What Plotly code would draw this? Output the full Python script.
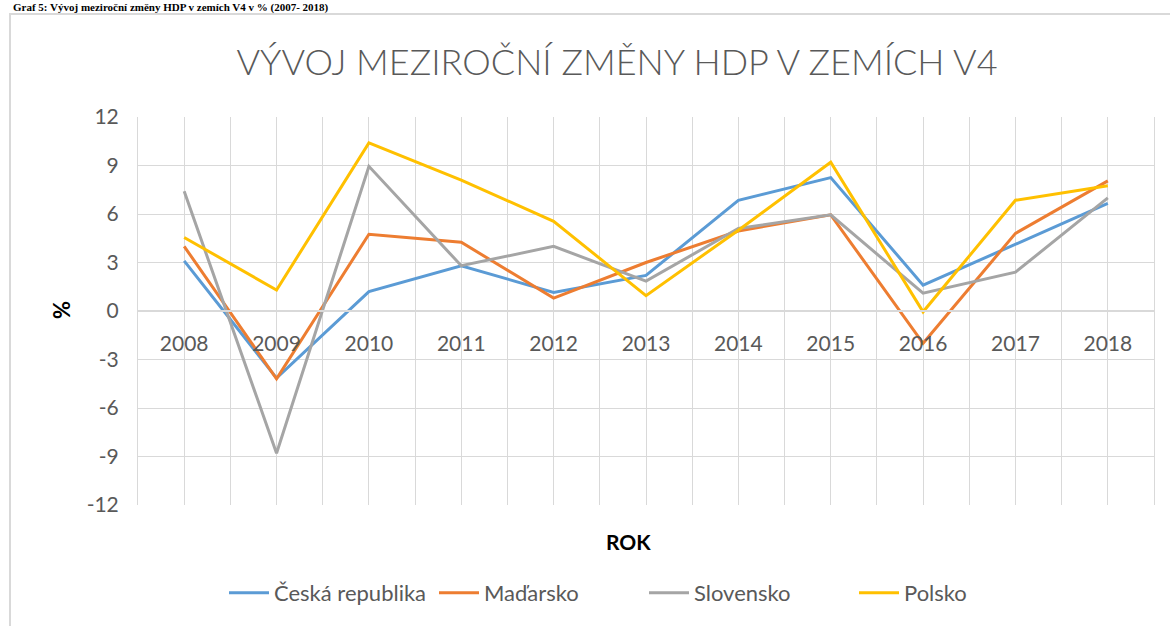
import plotly.graph_objects as go

years = [2008, 2009, 2010, 2011, 2012, 2013, 2014, 2015, 2016, 2017, 2018]
ceska_republika = [3.1, -4.15, 1.2, 2.8, 1.15, 2.2, 6.85, 8.25, 1.6, 4.15, 6.65]
madarsko = [4.0, -4.2, 4.75, 4.25, 0.8, 3.0, 4.95, 5.95, -2.0, 4.8, 8.05]
slovensko = [7.4, -8.8, 8.95, 2.8, 4.0, 1.85, 5.1, 5.95, 1.1, 2.4, 7.0]
polsko = [4.55, 1.3, 10.4, 8.1, 5.55, 0.95, 5.0, 9.2, -0.05, 6.85, 7.75]

series_names = ["Česká republika", "Maďarsko", "Slovensko", "Polsko"]
series_values = [ceska_republika, madarsko, slovensko, polsko]
colors = ["#5B9BD5", "#ED7D31", "#A5A5A5", "#FFC000"]

y_ticks = [-12, -9, -6, -3, 0, 3, 6, 9, 12]
y_ticktext = ["-12", "-9", "-6", "-3", "0", "3", "6", "9", "12"]

W, H = 1170, 626
L, R, T, B = 138, 16, 117, 121
pw, ph = W - L - R, H - T - B

def px_x(x):
    return (x - L) / pw

def px_y(y):
    return (H - B - y) / ph

FONT = "Lato"
GRID = "#D9D9D9"
TXT = "#595959"

fig = go.Figure()
for name, vals, c in zip(series_names, series_values, colors):
    fig.add_trace(go.Scatter(x=years, y=vals, name=name, mode="lines",
                             line=dict(color=c, width=3)))

half = [y - 0.5 for y in years] + [years[-1] + 0.5]

fig.update_layout(
    width=W, height=H,
    margin=dict(l=L, r=R, t=T, b=B, autoexpand=False),
    paper_bgcolor="white", plot_bgcolor="white",
    font=dict(family=FONT, color=TXT, size=21),
    title=dict(text="VÝVOJ MEZIROČNÍ ZMĚNY HDP V ZEMÍCH V4",
               font=dict(family=FONT, size=36, color=TXT, weight=300),
               x=617 / W, xanchor="center", xref="container",
               y=1 - 62 / H, yanchor="middle", yref="container"),
    xaxis=dict(range=[2007.5, 2018.5], tickmode="array", tickvals=years,
               ticktext=[str(y) for y in years],
               showgrid=True, gridcolor=GRID, gridwidth=1,
               minor=dict(tickvals=half, showgrid=True, gridcolor=GRID, gridwidth=1),
               anchor="free", position=0.5, showline=True, linecolor=GRID, linewidth=2,
               ticks="outside", ticklen=14, tickcolor="rgba(0,0,0,0)",
               tickfont=dict(size=21, color=TXT), zeroline=False, fixedrange=True),
    yaxis=dict(range=[-12, 12], tickmode="array", tickvals=y_ticks, ticktext=y_ticktext,
               showgrid=True, gridcolor=GRID, gridwidth=1, zeroline=False,
               showline=True, mirror=True, linecolor=GRID, linewidth=1,
               ticks="outside", ticklen=14, tickcolor="rgba(0,0,0,0)",
               tickfont=dict(size=21, color=TXT)),
    legend=dict(orientation="h", x=px_x(224), xanchor="left",
                y=px_y(593), yanchor="middle", yref="paper",
                font=dict(size=22, color=TXT), itemwidth=40,
                entrywidthmode="pixels", entrywidth=155,
                bgcolor="rgba(0,0,0,0)"),
    showlegend=True,
)

fig.add_annotation(text="<b>%</b>", x=px_x(61), y=px_y(310), xref="paper", yref="paper",
                   xanchor="center", yanchor="middle",
                   showarrow=False, textangle=-90, font=dict(size=22, color="black", family=FONT))
fig.add_annotation(text="<b>ROK</b>", x=px_x(628), y=px_y(541), xref="paper", yref="paper",
                   xanchor="center", yanchor="middle",
                   showarrow=False, font=dict(size=21, color="black", family=FONT))
fig.add_annotation(text="<b>Graf 5: Vývoj meziroční změny HDP v zemích V4 v % (2007- 2018)</b>",
                   x=px_x(12), y=px_y(0), xref="paper", yref="paper", xanchor="left",
                   yanchor="top", showarrow=False, borderpad=0,
                   font=dict(size=11, color="black", family="Liberation Serif"))
fig.add_shape(type="rect", xref="paper", yref="paper",
              x0=px_x(10), x1=px_x(1200), y0=px_y(14), y1=px_y(660),
              line=dict(color=GRID, width=2), fillcolor="rgba(0,0,0,0)", layer="below")

fig.write_html("out.html", config={"displayModeBar": False},
               post_script="document.body.style.margin='0';")
